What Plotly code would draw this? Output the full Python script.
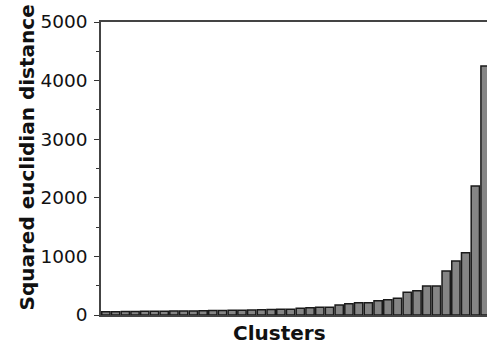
import plotly.graph_objects as go

clusters = list(range(1, 41))
distance = [55, 57, 58, 60, 62, 63, 65, 67, 68, 70,
            72, 75, 78, 80, 83, 86, 89, 92, 96, 100,
            114, 125, 131, 131, 170, 193, 210, 210, 244, 261,
            284, 387, 414, 494, 494, 750, 921, 1062, 2200, 4250]
y_ticks = [0, 1000, 2000, 3000, 4000, 5000]

FONT = "DejaVu Sans"

fig = go.Figure(go.Bar(
    x=clusters, y=distance,
    marker=dict(color="#858585", line=dict(color="#1a1a1a", width=1.5)),
))

fig.update_layout(
    width=487, height=347,
    margin=dict(l=101, r=0, t=22, b=32),
    plot_bgcolor="white", paper_bgcolor="white",
    bargap=0.15, showlegend=False,
    font=dict(family=FONT, color="#111"),
    xaxis=dict(range=[0.5, 40.2], showticklabels=False, ticks="",
               showline=True, mirror=True, linecolor="#444", linewidth=1.6,
               showgrid=False, zeroline=False),
    yaxis=dict(range=[0, 5000], tickvals=y_ticks, ticks="outside", ticklen=5,
               tickwidth=1.2, tickcolor="#333", ticklabelstandoff=3,
               minor=dict(dtick=500, ticks="outside", ticklen=3, tickcolor="#333", tickwidth=1),
               showline=True, linecolor="#444", linewidth=1.5,
               showgrid=False, zeroline=False,
               tickfont=dict(size=18.5, family=FONT, color="#111")),
    annotations=[
        dict(text="<b>Squared euclidian distance</b>", textangle=-90, showarrow=False,
             xref="paper", yref="paper", x=(26.5 - 101) / 386, y=(347 - 158 - 32) / 293,
             xanchor="center", yanchor="middle",
             font=dict(size=20, family=FONT, color="#111")),
        dict(text="<b>Clusters</b>", showarrow=False,
             xref="paper", yref="paper", x=(279 - 101) / 386, y=-(333 - 315) / 293,
             xanchor="center", yanchor="middle",
             font=dict(size=20, family=FONT, color="#111")),
    ],
)

fig.write_html(
    "out.html",
    config={"displayModeBar": False},
    post_script="document.body.style.margin='0';document.body.style.overflow='hidden';"
                "document.documentElement.style.overflow='hidden';",
)
